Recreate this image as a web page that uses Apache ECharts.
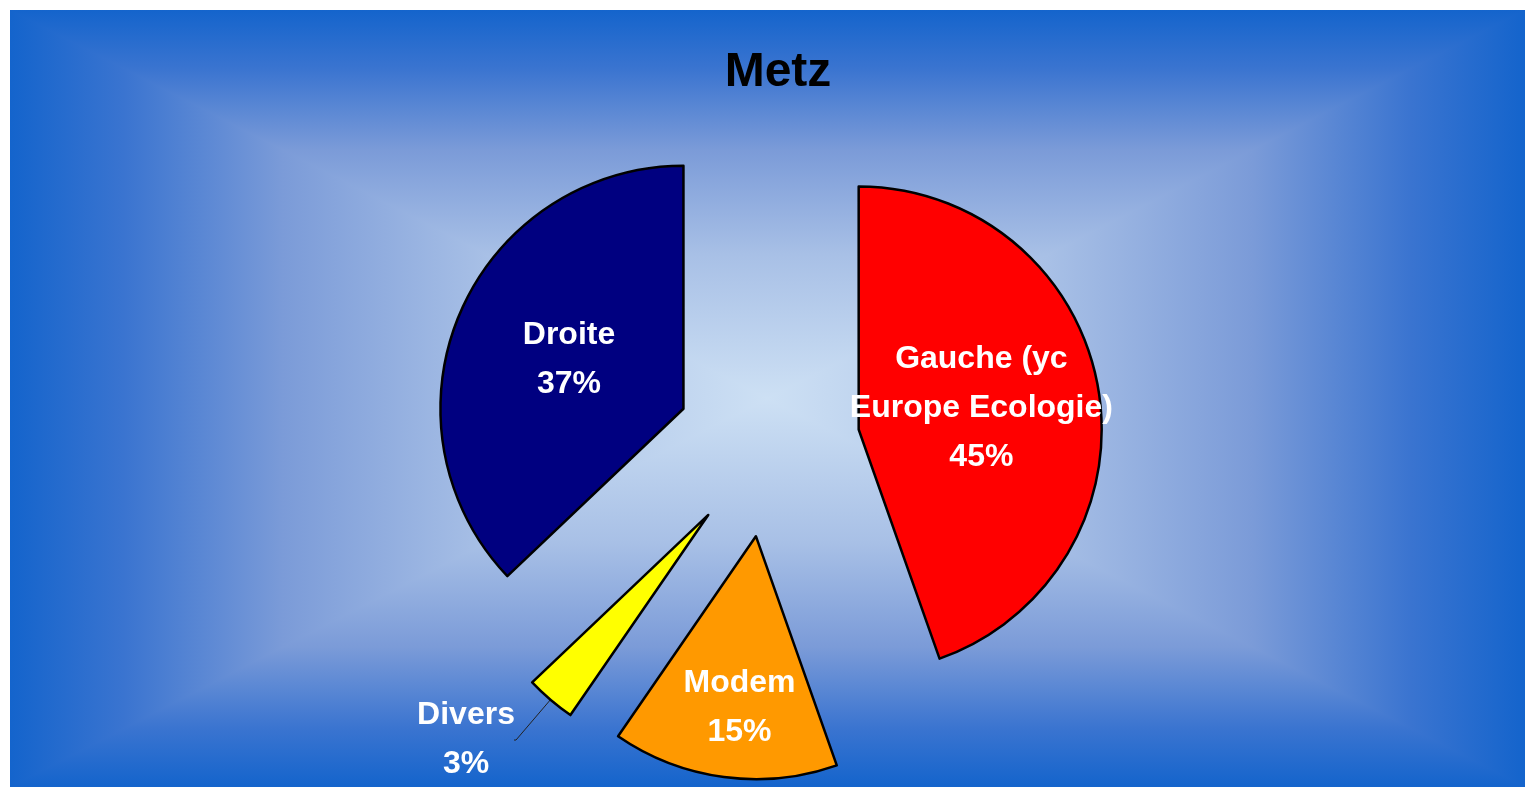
<!DOCTYPE html>
<html style="height: 100%;">
<head>
<meta charset="utf-8">
<script src="https://cdn.jsdelivr.net/npm/echarts@6/dist/echarts.min.js"></script>
</head>
<body style="height: 100%; margin: 0; background-color: #fff;">
<div id="container" style="width: 1525px; height: 787px;"></div>
<script type="text/javascript">
var categories = ['Gauche (yc\nEurope Ecologie)', 'Modem', 'Divers', 'Droite'];
var values = [44.6, 15.0, 3.3, 37.1];
var colors = ['#ff0000', '#ff9900', '#ffff00', '#000080'];

var dom = document.getElementById('container');
var myChart = echarts.init(dom);
var W = myChart.getWidth(), H = myChart.getHeight();

// rectangular "from centre" gradient: a vertical band fill, then left/right triangles on top
var x0 = 10, y0 = 10, x1 = W, y1 = H;
var cx = (x0 + x1) / 2, cy = (y0 + y1) / 2;
var stops = [
    { offset: 0, color: '#1464cc' },
    { offset: 0.15, color: '#3a74d0' },
    { offset: 0.36, color: '#7b9bd8' },
    { offset: 0.63, color: '#a8c0e6' },
    { offset: 1, color: '#cde0f4' }
];
var both = [];
stops.forEach(function (s) { both.push({ offset: s.offset / 2, color: s.color }); });
stops.slice().reverse().forEach(function (s) { both.push({ offset: 1 - s.offset / 2, color: s.color }); });

function tri(points, gx, gy, gx2, gy2) {
    return {
        type: 'polygon',
        z: -9,
        silent: true,
        shape: { points: points },
        style: { fill: new echarts.graphic.LinearGradient(gx, gy, gx2, gy2, stops) }
    };
}
var bg = [
    {
        type: 'rect',
        z: -10,
        silent: true,
        shape: { x: x0, y: y0, width: x1 - x0, height: y1 - y0 },
        style: { fill: new echarts.graphic.LinearGradient(0, 0, 0, 1, both) }
    },
    tri([[x0, y0], [x0, y1], [cx, cy]], 0, 0, 1, 0),
    tri([[x1, y0], [x1, y1], [cx, cy]], 1, 0, 0, 0)
];

var labelFont = {
    color: '#fff',
    fontFamily: 'Liberation Sans, Arial, sans-serif',
    fontWeight: 'bold',
    fontSize: 32,
    lineHeight: 49
};

var pieData = categories.map(function (name, i) {
    var item = {
        name: name,
        value: values[i],
        selected: true,
        itemStyle: { color: colors[i] }
    };
    if (name === 'Divers') {
        item.label = {
            position: 'outside',
            distanceToLabelLine: 0,
            formatter: '{a|{b}}\n{a|{d}%}',
            rich: {
                a: Object.assign({ width: 96, align: 'center' }, labelFont)
            }
        };
        item.labelLine = {
            show: true,
            length: 53,
            length2: 2,
            lineStyle: { color: '#222', width: 1 }
        };
    }
    return item;
});

option = {
    animation: false,
    graphic: bg,
    title: {
        text: 'Metz',
        left: 773,
        top: 44,
        textAlign: 'center',
        textStyle: {
            color: '#000',
            fontFamily: 'Liberation Sans, Arial, sans-serif',
            fontWeight: 'bold',
            fontSize: 48
        }
    },
    series: [{
        type: 'pie',
        center: [768, 445],
        radius: 243,
        startAngle: 90,
        clockwise: true,
        selectedMode: 'multiple',
        selectedOffset: 92,
        avoidLabelOverlap: false,
        percentPrecision: 0,
        itemStyle: { borderColor: '#000', borderWidth: 2.5 },
        select: { itemStyle: { borderColor: '#000', borderWidth: 2.5 } },
        emphasis: { disabled: true },
        label: Object.assign({
            show: true,
            position: 'inside',
            formatter: '{b}\n{d}%'
        }, labelFont),
        labelLine: { show: false },
        labelLayout: function (params) {
            if (params.dataIndex === 1) return { dy: 48 };
        },
        data: pieData
    }]
};
myChart.setOption(option);
</script>
</body>
</html>
